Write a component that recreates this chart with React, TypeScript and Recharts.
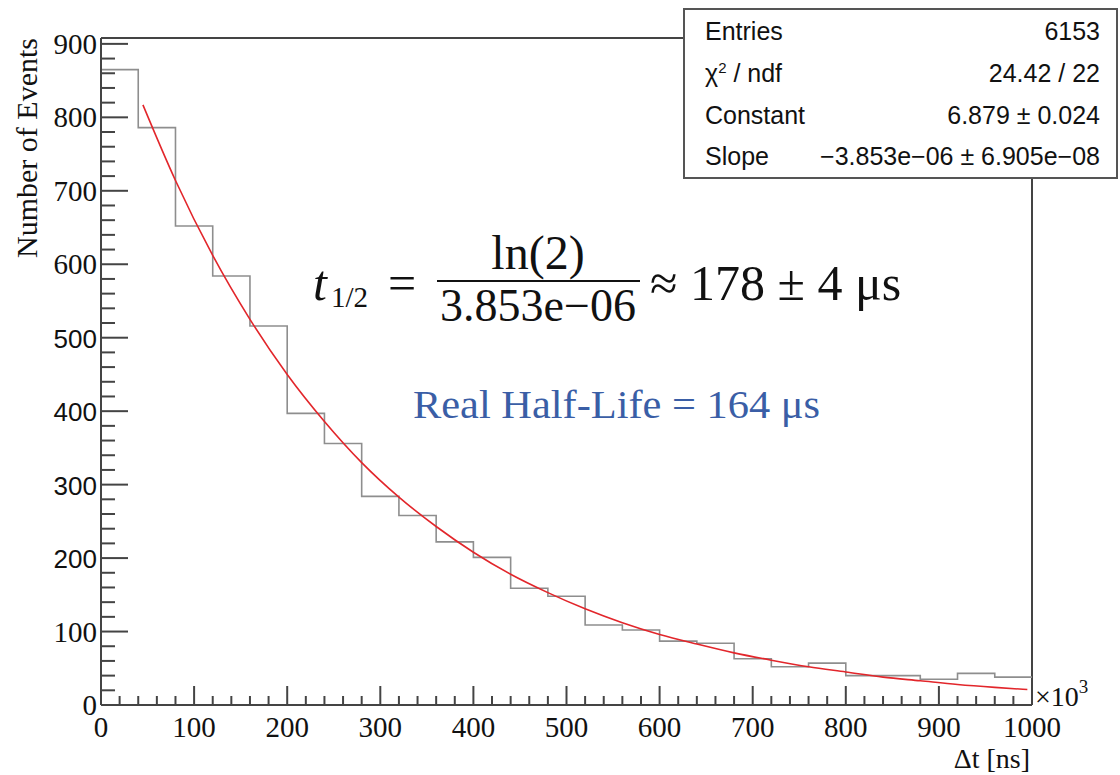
import React from "react";
import { ComposedChart, Line, XAxis, YAxis, ReferenceLine } from "recharts";

// histogram: 25 bins of 40 (x10^3 ns)
const binStarts = [0, 40, 80, 120, 160, 200, 240, 280, 320, 360, 400, 440, 480, 520, 560, 600, 640, 680, 720, 760, 800, 840, 880, 920, 960];
const binCounts = [865, 786, 652, 584, 516, 397, 356, 284, 258, 222, 201, 159, 148, 109, 102, 87, 84, 63, 52, 57, 40, 40, 35, 43, 38];
const binWidth = 40;

// exponential fit
const fitX = [45, 80, 120, 160, 200, 240, 280, 320, 360, 400, 440, 480, 520, 560, 600, 640, 680, 720, 760, 800, 840, 880, 920, 960, 995];
const fitY = [817, 714, 612, 525, 450, 386, 330, 283, 243, 208, 178, 153, 131, 112, 96, 83, 71, 61, 52, 45, 38, 33, 28, 24, 21];

const xTicks = Array.from({ length: 51 }, (_, i) => i * 20);
const yTicks = Array.from({ length: 46 }, (_, i) => i * 20);
const sansLabels = [200, 300, 400, 500];

const histData = [
  ...binStarts.map((x, i) => ({ x, y: binCounts[i] })),
  { x: binStarts[binStarts.length - 1] + binWidth, y: binCounts[binCounts.length - 1] },
];
const fitData = fitX.map((x, i) => ({ x, y: fitY[i] }));

const SERIF = "'Liberation Serif', 'Times New Roman', serif";
const SANS = "'Liberation Sans', Arial, sans-serif";
const AXIS = "#444";

const XTick = (props: any) => {
  const { x, y, payload } = props;
  const v = payload.value;
  const major = v % 100 === 0;
  return (
    <g>
      <line x1={x} x2={x} y1={y} y2={y - (major ? 19 : 9)} stroke={AXIS} strokeWidth={2} />
      {major && (
        <text x={x} y={y + 32} textAnchor="middle" style={{ fontFamily: SERIF }} fontSize={29} fill="#111">
          {v}
        </text>
      )}
    </g>
  );
};

const YTick = (props: any) => {
  const { x, y, payload } = props;
  const v = payload.value;
  const major = v % 100 === 0;
  const sans = sansLabels.includes(v);
  return (
    <g>
      <line x1={x} x2={x + (major ? 27 : 14)} y1={y} y2={y} stroke={AXIS} strokeWidth={2} />
      {major && (
        <text
          x={x - 4}
          y={y + 10}
          textAnchor="end"
          style={{ fontFamily: sans ? SANS : SERIF }}
          fontSize={sans ? 26 : 29}
          fill="#111"
        >
          {v}
        </text>
      )}
    </g>
  );
};

export default function App() {
  return (
    <div style={{ position: "absolute", left: 0, top: 0, width: 1120, height: 775, background: "#fff" }}>
      <ComposedChart width={1120} height={775} margin={{ top: 38, right: 88, left: 0, bottom: 30 }}>
        <XAxis
          type="number"
          dataKey="x"
          domain={[0, 1000]}
          ticks={xTicks}
          interval={0}
          tickSize={0}
          tickMargin={0}
          tickLine={false}
          axisLine={{ stroke: AXIS, strokeWidth: 2 }}
          tick={<XTick />}
          height={40}
          allowDataOverflow
        />
        <YAxis
          type="number"
          domain={[0, 908]}
          ticks={yTicks}
          interval={0}
          tickSize={0}
          tickMargin={0}
          tickLine={false}
          axisLine={{ stroke: AXIS, strokeWidth: 2 }}
          tick={<YTick />}
          width={101}
          allowDataOverflow
        />
        <ReferenceLine y={908} stroke={AXIS} strokeWidth={2} />
        <ReferenceLine x={1000} stroke={AXIS} strokeWidth={2} />
        <Line
          data={histData}
          dataKey="y"
          type="stepAfter"
          stroke="#8e8e8e"
          strokeWidth={1.6}
          dot={false}
          isAnimationActive={false}
        />
        <Line
          data={fitData}
          dataKey="y"
          type="monotone"
          stroke="#e2262b"
          strokeWidth={1.6}
          dot={false}
          isAnimationActive={false}
        />
      </ComposedChart>

      <svg width={1120} height={775} style={{ position: "absolute", left: 0, top: 0, pointerEvents: "none" }}>
        {/* axis titles */}
        <text
          transform="translate(37,38) rotate(-90)"
          textAnchor="end"
          style={{ fontFamily: SERIF }}
          fontSize={30}
          fill="#111"
        >
          Number of Events
        </text>
        <text x={1030} y={768} textAnchor="end" style={{ fontFamily: SERIF }} fontSize={28} fill="#111">
          Δt [ns]
        </text>
        <text x={1035} y={706} style={{ fontFamily: SERIF }} fontSize={28} fill="#111">
          ×10
          <tspan dy={-13} fontSize={19}>3</tspan>
        </text>

        {/* stats box */}
        <rect x={684} y={9} width={433} height={169} fill="#fff" stroke="#555" strokeWidth={2} />
        <g style={{ fontFamily: SANS }} fontSize={25} fill="#111">
          <text x={705} y={40}>Entries</text>
          <text x={1100} y={40} textAnchor="end">6153</text>
          <text x={705} y={82}>χ<tspan dy={-9} fontSize={15}>2</tspan><tspan dy={9}> / ndf</tspan></text>
          <text x={1100} y={82} textAnchor="end">24.42 / 22</text>
          <text x={705} y={124}>Constant</text>
          <text x={1100} y={124} textAnchor="end">6.879 ± 0.024</text>
          <text x={705} y={165}>Slope</text>
          <text x={1100} y={165} textAnchor="end">−3.853e−06 ± 6.905e−08</text>
        </g>

        {/* half-life formula */}
        <g style={{ fontFamily: SERIF }} fill="#111">
          <text x={313} y={300} fontSize={50} fontStyle="italic">t</text>
          <text x={331} y={307} fontSize={29}>1/2</text>
          <text x={388} y={300} fontSize={50}>=</text>
          <text x={538} y={269} fontSize={48} textAnchor="middle">ln(2)</text>
          <line x1={437} x2={640} y1={281} y2={281} stroke="#111" strokeWidth={2} />
          <text x={538} y={321} fontSize={46} textAnchor="middle">3.853e−06</text>
          <text x={650} y={300} fontSize={50}>≈ 178 ± 4 μs</text>
        </g>
        <text
          x={413}
          y={418}
          style={{ fontFamily: SERIF }}
          fontSize={40}
          fill="#3a5ea6"
          textLength={407}
          lengthAdjust="spacingAndGlyphs"
        >
          Real Half-Life = 164 μs
        </text>
      </svg>
    </div>
  );
}
